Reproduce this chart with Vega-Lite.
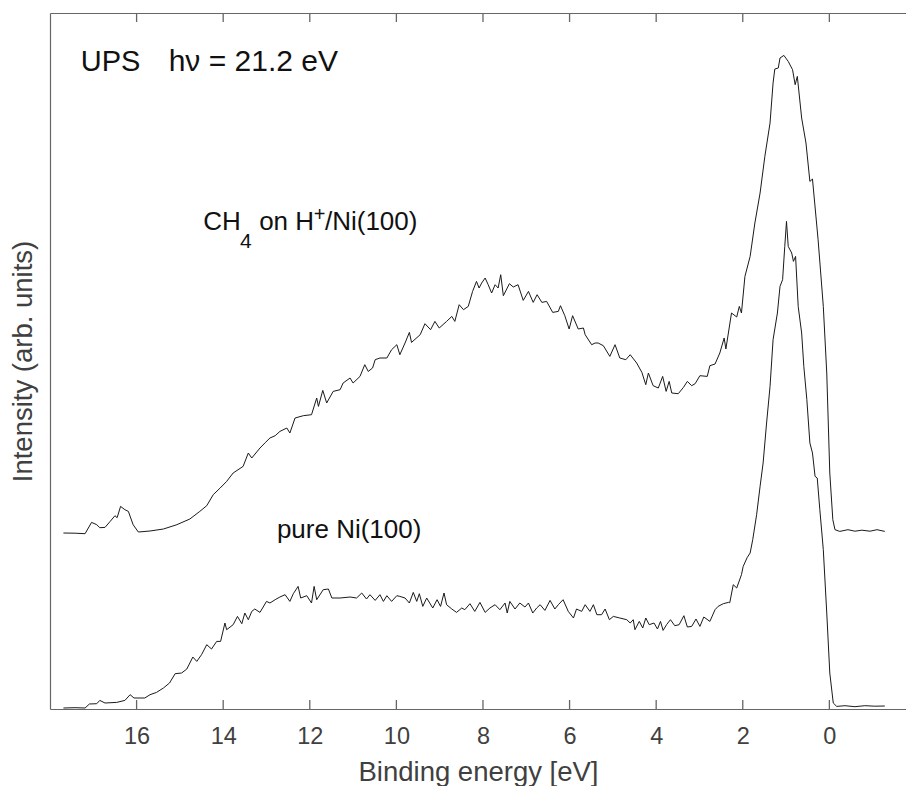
{
  "$schema": "https://vega.github.io/schema/vega-lite/v6.json",
  "width": 856,
  "height": 696,
  "autosize": {"type": "none"},
  "padding": {"left": 50, "top": 13, "right": 0, "bottom": 77},
  "background": "white",
  "config": {
    "view": {"stroke": null},
    "font": "Liberation Sans",
    "axis": {"grid": false, "domainColor": "#666666", "tickColor": "#666666", "domainWidth": 1.2, "tickWidth": 1.2, "labelFont": "Liberation Sans", "titleFont": "Liberation Sans", "titleFontWeight": "normal", "labelColor": "#404040", "titleColor": "#404040"}
  },
  "datasets": {
    "ch4": [
      {"E":17.69,"I":176},{"E":17.42,"I":175.8},{"E":17.19,"I":175.3},{"E":17.04,"I":186.6},{"E":16.92,"I":184.3},{"E":16.85,"I":181.3},{"E":16.73,"I":181.6},{"E":16.61,"I":187.6},{"E":16.5,"I":193.3},{"E":16.45,"I":191.3},{"E":16.37,"I":202.6},{"E":16.27,"I":199.3},{"E":16.19,"I":197.6},{"E":16.08,"I":184.3},{"E":15.96,"I":177},{"E":15.69,"I":178},{"E":15.38,"I":180},{"E":15.07,"I":184.3},{"E":14.77,"I":190},{"E":14.54,"I":197.6},{"E":14.38,"I":203.3},{"E":14.23,"I":214.3},{"E":14.07,"I":221},{"E":13.92,"I":227.6},{"E":13.77,"I":236},{"E":13.54,"I":242.6},{"E":13.42,"I":256},{"E":13.34,"I":251},{"E":13.15,"I":261},{"E":13.03,"I":266.3},{"E":12.92,"I":271},{"E":12.8,"I":273.3},{"E":12.69,"I":277.6},{"E":12.53,"I":281},{"E":12.46,"I":276},{"E":12.34,"I":291},{"E":12.15,"I":293.3},{"E":11.96,"I":294.3},{"E":11.84,"I":311},{"E":11.8,"I":302.6},{"E":11.7,"I":318.6},{"E":11.61,"I":306},{"E":11.46,"I":317.6},{"E":11.3,"I":319.3},{"E":11.23,"I":326},{"E":11.07,"I":331},{"E":11.0,"I":326},{"E":10.84,"I":332.6},{"E":10.73,"I":344.3},{"E":10.65,"I":337.6},{"E":10.55,"I":341},{"E":10.49,"I":349.3},{"E":10.38,"I":351},{"E":10.22,"I":351},{"E":10.11,"I":359.3},{"E":9.99,"I":364.3},{"E":9.92,"I":354.3},{"E":9.8,"I":366},{"E":9.7,"I":376.6},{"E":9.65,"I":366.6},{"E":9.45,"I":374.3},{"E":9.34,"I":385.3},{"E":9.21,"I":379.3},{"E":9.11,"I":387.6},{"E":9.01,"I":381},{"E":8.84,"I":387.6},{"E":8.72,"I":392.6},{"E":8.65,"I":387.6},{"E":8.55,"I":404.3},{"E":8.45,"I":399.3},{"E":8.34,"I":402.6},{"E":8.24,"I":417.6},{"E":8.15,"I":427.6},{"E":8.09,"I":421},{"E":8.03,"I":426},{"E":7.95,"I":431},{"E":7.88,"I":424.3},{"E":7.8,"I":416},{"E":7.72,"I":424.3},{"E":7.65,"I":421},{"E":7.59,"I":434.3},{"E":7.53,"I":413.3},{"E":7.39,"I":425.3},{"E":7.3,"I":422},{"E":7.19,"I":424.3},{"E":7.07,"I":408.6},{"E":6.95,"I":417.6},{"E":6.84,"I":406.6},{"E":6.75,"I":414.3},{"E":6.64,"I":406.6},{"E":6.53,"I":407.6},{"E":6.39,"I":396.6},{"E":6.26,"I":397.6},{"E":6.21,"I":403.3},{"E":6.11,"I":393.3},{"E":6.01,"I":380},{"E":5.93,"I":393.3},{"E":5.8,"I":380},{"E":5.68,"I":381},{"E":5.64,"I":374.3},{"E":5.49,"I":364.3},{"E":5.41,"I":366},{"E":5.34,"I":366},{"E":5.22,"I":363.3},{"E":5.07,"I":352.6},{"E":4.95,"I":364.3},{"E":4.84,"I":351},{"E":4.7,"I":349.3},{"E":4.6,"I":354.3},{"E":4.45,"I":346},{"E":4.33,"I":336.6},{"E":4.24,"I":324.3},{"E":4.18,"I":336},{"E":4.07,"I":323.3},{"E":3.95,"I":321},{"E":3.85,"I":332.6},{"E":3.77,"I":317.6},{"E":3.7,"I":327.6},{"E":3.64,"I":316},{"E":3.49,"I":315.3},{"E":3.37,"I":321.6},{"E":3.28,"I":327.6},{"E":3.18,"I":323.3},{"E":3.1,"I":325.3},{"E":2.99,"I":333.3},{"E":2.82,"I":332.6},{"E":2.76,"I":343.3},{"E":2.64,"I":345},{"E":2.53,"I":356},{"E":2.43,"I":371},{"E":2.39,"I":360},{"E":2.26,"I":396},{"E":2.14,"I":392},{"E":2.08,"I":402.6},{"E":2.03,"I":396},{"E":1.95,"I":432.6},{"E":1.83,"I":452.6},{"E":1.72,"I":486},{"E":1.6,"I":516},{"E":1.49,"I":552.6},{"E":1.37,"I":586},{"E":1.3,"I":626},{"E":1.26,"I":640},{"E":1.18,"I":641},{"E":1.14,"I":651},{"E":1.05,"I":653.6},{"E":0.95,"I":647.6},{"E":0.85,"I":639.3},{"E":0.79,"I":624.3},{"E":0.74,"I":632.6},{"E":0.64,"I":591},{"E":0.54,"I":566},{"E":0.45,"I":527.6},{"E":0.39,"I":530},{"E":0.26,"I":469.3},{"E":0.14,"I":402.6},{"E":0.06,"I":336},{"E":-0.01,"I":236},{"E":-0.08,"I":189.3},{"E":-0.13,"I":179.3},{"E":-0.24,"I":177.6},{"E":-0.43,"I":179.3},{"E":-0.59,"I":177.8},{"E":-0.75,"I":178.8},{"E":-0.94,"I":177.8},{"E":-1.1,"I":179.3},{"E":-1.28,"I":177.6}
    ],
    "ni": [
      {"E":17.69,"I":1},{"E":17.42,"I":1.3},{"E":17.19,"I":1},{"E":17.09,"I":5},{"E":16.92,"I":5.3},{"E":16.85,"I":8.6},{"E":16.73,"I":6},{"E":16.46,"I":6.6},{"E":16.27,"I":8.6},{"E":16.15,"I":14.3},{"E":16.06,"I":11},{"E":15.81,"I":11},{"E":15.69,"I":14.3},{"E":15.54,"I":16.6},{"E":15.38,"I":21},{"E":15.24,"I":26},{"E":15.11,"I":35.3},{"E":14.96,"I":36},{"E":14.84,"I":40},{"E":14.7,"I":52},{"E":14.61,"I":47.6},{"E":14.5,"I":54.3},{"E":14.38,"I":64.3},{"E":14.27,"I":60},{"E":14.15,"I":67.6},{"E":14.06,"I":67.6},{"E":13.96,"I":86},{"E":13.92,"I":79.3},{"E":13.77,"I":84.3},{"E":13.67,"I":92.6},{"E":13.57,"I":85.3},{"E":13.5,"I":96},{"E":13.42,"I":89.3},{"E":13.34,"I":97.6},{"E":13.27,"I":100},{"E":13.15,"I":96.6},{"E":13.0,"I":107.6},{"E":12.92,"I":106},{"E":12.8,"I":109.3},{"E":12.69,"I":112},{"E":12.57,"I":114.3},{"E":12.46,"I":107.6},{"E":12.38,"I":115.3},{"E":12.27,"I":122.6},{"E":12.21,"I":111},{"E":12.07,"I":113.3},{"E":11.96,"I":106},{"E":11.9,"I":122.6},{"E":11.84,"I":109.3},{"E":11.69,"I":119.3},{"E":11.57,"I":120},{"E":11.49,"I":111},{"E":11.3,"I":111},{"E":11.07,"I":112},{"E":10.92,"I":111},{"E":10.8,"I":116},{"E":10.69,"I":110},{"E":10.61,"I":114.3},{"E":10.49,"I":108.6},{"E":10.38,"I":114.3},{"E":10.3,"I":107.6},{"E":10.22,"I":113.3},{"E":10.11,"I":107.6},{"E":9.99,"I":113.3},{"E":9.92,"I":112.6},{"E":9.8,"I":111},{"E":9.7,"I":106},{"E":9.61,"I":116.6},{"E":9.53,"I":107.6},{"E":9.47,"I":115.3},{"E":9.39,"I":102.6},{"E":9.3,"I":111},{"E":9.16,"I":101},{"E":9.06,"I":109.3},{"E":8.98,"I":102.6},{"E":8.9,"I":116},{"E":8.84,"I":104.3},{"E":8.72,"I":100},{"E":8.61,"I":96.6},{"E":8.49,"I":101},{"E":8.42,"I":99.3},{"E":8.3,"I":105.3},{"E":8.19,"I":97.6},{"E":8.07,"I":106.6},{"E":7.95,"I":96.6},{"E":7.84,"I":101},{"E":7.72,"I":104.3},{"E":7.61,"I":99.3},{"E":7.49,"I":106},{"E":7.44,"I":96},{"E":7.38,"I":107.6},{"E":7.26,"I":100},{"E":7.15,"I":106},{"E":7.03,"I":102},{"E":6.95,"I":106},{"E":6.85,"I":96},{"E":6.76,"I":101},{"E":6.68,"I":104.3},{"E":6.57,"I":98.6},{"E":6.45,"I":108.6},{"E":6.34,"I":100},{"E":6.26,"I":104.3},{"E":6.15,"I":109.3},{"E":6.03,"I":97.6},{"E":5.91,"I":91},{"E":5.84,"I":100},{"E":5.72,"I":97.6},{"E":5.64,"I":104.3},{"E":5.53,"I":97.6},{"E":5.45,"I":104.3},{"E":5.37,"I":94.3},{"E":5.26,"I":94.3},{"E":5.18,"I":100},{"E":5.08,"I":89.3},{"E":4.99,"I":92.6},{"E":4.84,"I":91},{"E":4.68,"I":89.3},{"E":4.6,"I":86},{"E":4.53,"I":89.3},{"E":4.49,"I":79.3},{"E":4.39,"I":87.6},{"E":4.31,"I":81},{"E":4.24,"I":91},{"E":4.16,"I":84.3},{"E":4.05,"I":86},{"E":3.97,"I":80},{"E":3.9,"I":87.6},{"E":3.84,"I":78.6},{"E":3.76,"I":84.3},{"E":3.67,"I":89.3},{"E":3.57,"I":83.3},{"E":3.47,"I":84.3},{"E":3.36,"I":93.3},{"E":3.28,"I":82},{"E":3.18,"I":82.6},{"E":3.08,"I":90},{"E":2.99,"I":82.6},{"E":2.9,"I":92},{"E":2.76,"I":87.6},{"E":2.64,"I":99.3},{"E":2.57,"I":102.6},{"E":2.45,"I":105.3},{"E":2.33,"I":106.6},{"E":2.3,"I":106.3},{"E":2.22,"I":124.3},{"E":2.14,"I":121},{"E":2.03,"I":134.3},{"E":1.99,"I":142.6},{"E":1.9,"I":151.3},{"E":1.83,"I":156},{"E":1.77,"I":169.3},{"E":1.68,"I":194.3},{"E":1.6,"I":222.6},{"E":1.53,"I":246},{"E":1.45,"I":286},{"E":1.37,"I":322.6},{"E":1.3,"I":369.3},{"E":1.2,"I":396},{"E":1.14,"I":422.6},{"E":1.08,"I":429.3},{"E":1.03,"I":462.6},{"E":0.99,"I":487.6},{"E":0.95,"I":462.6},{"E":0.87,"I":456},{"E":0.83,"I":447.6},{"E":0.78,"I":452.6},{"E":0.72,"I":402.6},{"E":0.64,"I":376},{"E":0.59,"I":342.6},{"E":0.52,"I":309.3},{"E":0.45,"I":266},{"E":0.39,"I":256},{"E":0.33,"I":232.6},{"E":0.28,"I":231},{"E":0.22,"I":199.3},{"E":0.14,"I":159.3},{"E":0.06,"I":96},{"E":-0.01,"I":36},{"E":-0.09,"I":6},{"E":-0.17,"I":2.6},{"E":-0.36,"I":3.3},{"E":-0.59,"I":2.3},{"E":-0.82,"I":3.3},{"E":-1.05,"I":2.8},{"E":-1.28,"I":3}
    ],
    "labels": [
      {"E":14.46,"I":479.3,"t":"CH"},
      {"E":13.17,"I":479.3,"t":"on H"},
      {"E":11.65,"I":479.3,"t":"/Ni(100)"},
      {"E":12.76,"I":171,"t":"pure Ni(100)"}
    ],
    "sub": [{"E":13.61,"I":461,"t":"4"}],
    "sup": [{"E":11.91,"I":488,"t":"+"}],
    "ups": [{"E":17.29,"I":637.6,"t":"UPS"}],
    "hv": [{"E":15.26,"I":637.6,"t":"hν = 21.2 eV"}],
    "tickmarks": [
      {"E":16,"I":0,"k":"b16"},{"E":16,"I":9,"k":"b16"},{"E":14,"I":0,"k":"b14"},{"E":14,"I":9,"k":"b14"},
      {"E":12,"I":0,"k":"b12"},{"E":12,"I":9,"k":"b12"},{"E":10,"I":0,"k":"b10"},{"E":10,"I":9,"k":"b10"},
      {"E":8,"I":0,"k":"b8"},{"E":8,"I":9,"k":"b8"},{"E":6,"I":0,"k":"b6"},{"E":6,"I":9,"k":"b6"},
      {"E":4,"I":0,"k":"b4"},{"E":4,"I":9,"k":"b4"},{"E":2,"I":0,"k":"b2"},{"E":2,"I":9,"k":"b2"},
      {"E":0,"I":0,"k":"b0"},{"E":0,"I":9,"k":"b0"},
      {"E":16,"I":687,"k":"t16"},{"E":16,"I":696,"k":"t16"},{"E":14,"I":687,"k":"t14"},{"E":14,"I":696,"k":"t14"},
      {"E":12,"I":687,"k":"t12"},{"E":12,"I":696,"k":"t12"},{"E":10,"I":687,"k":"t10"},{"E":10,"I":696,"k":"t10"},
      {"E":8,"I":687,"k":"t8"},{"E":8,"I":696,"k":"t8"},{"E":6,"I":687,"k":"t6"},{"E":6,"I":696,"k":"t6"},
      {"E":4,"I":687,"k":"t4"},{"E":4,"I":696,"k":"t4"},{"E":2,"I":687,"k":"t2"},{"E":2,"I":696,"k":"t2"},
      {"E":0,"I":687,"k":"t0"},{"E":0,"I":696,"k":"t0"}
    ]
  },
  "encoding": {
    "y": {"field": "I", "type": "quantitative", "scale": {"domain": [0, 696], "nice": false, "zero": false},
      "axis": {"orient": "left", "labels": false, "ticks": false, "domain": true, "title": "Intensity (arb. units)", "titleFontSize": 27.5, "titlePadding": 13}}
  },
  "layer": [
    {
      "data": {"name": "ch4"},
      "mark": {"type": "line", "color": "#1a1a1a", "strokeWidth": 1, "clip": true},
      "encoding": {
        "x": {"field": "E", "type": "quantitative", "scale": {"domain": [18, -1.77], "nice": false, "zero": false},
          "axis": {"orient": "bottom", "values": [16,14,12,10,8,6,4,2,0], "domain": true, "ticks": false, "labelFontSize": 23.5, "labelPadding": 15, "title": "Binding energy [eV]", "titleFontSize": 27.5, "titlePadding": 11}}
      }
    },
    {
      "data": {"name": "ni"},
      "mark": {"type": "line", "color": "#1a1a1a", "strokeWidth": 1, "clip": true},
      "encoding": {
        "x": {"field": "E", "type": "quantitative", "axis": {"orient": "top", "domain": true, "ticks": false, "labels": false, "title": null}}
      }
    },
    {
      "data": {"name": "tickmarks"},
      "mark": {"type": "line", "color": "#666666", "strokeWidth": 1.3},
      "encoding": {
        "x": {"field": "E", "type": "quantitative", "axis": null},
        "detail": {"field": "k"}
      }
    },
    {
      "data": {"name": "labels"},
      "mark": {"type": "text", "align": "left", "baseline": "alphabetic", "fontSize": 26, "color": "#111111"},
      "encoding": {
        "x": {"field": "E", "type": "quantitative", "axis": null},
        "text": {"field": "t"}
      }
    },
    {
      "data": {"name": "sub"},
      "mark": {"type": "text", "align": "left", "baseline": "alphabetic", "fontSize": 21, "color": "#111111"},
      "encoding": {
        "x": {"field": "E", "type": "quantitative", "axis": null},
        "text": {"field": "t"}
      }
    },
    {
      "data": {"name": "sup"},
      "mark": {"type": "text", "align": "left", "baseline": "alphabetic", "fontSize": 20, "color": "#111111"},
      "encoding": {
        "x": {"field": "E", "type": "quantitative", "axis": null},
        "text": {"field": "t"}
      }
    },
    {
      "data": {"name": "ups"},
      "mark": {"type": "text", "align": "left", "baseline": "alphabetic", "fontSize": 29, "color": "#111111"},
      "encoding": {
        "x": {"field": "E", "type": "quantitative", "axis": null},
        "text": {"field": "t"}
      }
    },
    {
      "data": {"name": "hv"},
      "mark": {"type": "text", "align": "left", "baseline": "alphabetic", "fontSize": 30, "color": "#111111"},
      "encoding": {
        "x": {"field": "E", "type": "quantitative", "axis": null},
        "text": {"field": "t"}
      }
    }
  ]
}
